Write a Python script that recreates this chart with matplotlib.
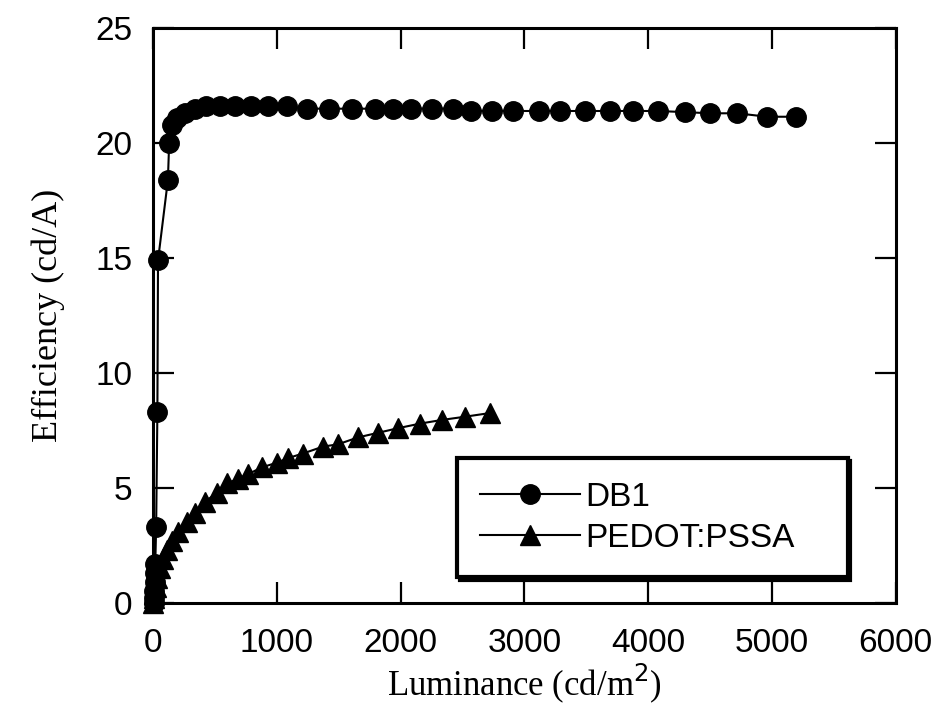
import numpy as np
import matplotlib
matplotlib.use("Agg")
import matplotlib.pyplot as plt

# DB1 device: luminance (cd/m2) vs efficiency (cd/A)
db1_lum = [5, 8, 10, 12, 15, 18, 25, 35, 40, 120, 130, 150, 190, 260, 340, 430,
           540, 660, 790, 930, 1080, 1240, 1420, 1610, 1790, 1940, 2080, 2250,
           2420, 2570, 2740, 2910, 3120, 3290, 3490, 3690, 3880, 4080, 4300,
           4500, 4720, 4960, 5190]
db1_eff = [0.0, 0.2, 0.5, 0.9, 1.3, 1.7, 3.3, 8.3, 14.9, 18.4, 20.0, 20.8, 21.1,
           21.3, 21.5, 21.6, 21.6, 21.6, 21.6, 21.6, 21.6, 21.5, 21.5, 21.5,
           21.5, 21.5, 21.5, 21.5, 21.5, 21.4, 21.4, 21.4, 21.4, 21.4, 21.4,
           21.4, 21.4, 21.4, 21.35, 21.3, 21.3, 21.15, 21.15]

# PEDOT:PSSA reference device
pedot_lum = [0, 5, 10, 20, 35, 55, 80, 110, 150, 202, 275, 339, 420, 517, 598,
             686, 767, 880, 1001, 1090, 1211, 1373, 1494, 1655, 1817, 1978,
             2156, 2333, 2519, 2721]
pedot_eff = [0.0, 0.2, 0.4, 0.7, 1.1, 1.5, 1.9, 2.3, 2.7, 3.1, 3.5, 3.9, 4.4,
             4.8, 5.2, 5.4, 5.6, 5.9, 6.1, 6.3, 6.5, 6.8, 6.9, 7.2, 7.4, 7.6,
             7.8, 7.96, 8.1, 8.26]

series_names = ["DB1", "PEDOT:PSSA"]
x_ticks = [0, 1000, 2000, 3000, 4000, 5000, 6000]
y_ticks = [0, 5, 10, 15, 20, 25]

fig = plt.figure(figsize=(9.39, 7.06), dpi=100)
ax = fig.add_axes([0.163, 0.146, 0.791, 0.814])

ax.plot(db1_lum, db1_eff, color="black", lw=1.5, marker="o", ms=14,
        label=series_names[0], clip_on=False, zorder=3)
ax.plot(pedot_lum, pedot_eff, color="black", lw=1.5, marker="^", ms=14,
        label=series_names[1], clip_on=False, zorder=3)

ax.set_xlim(0, 6000)
ax.set_ylim(0, 25)
ax.set_xticks(x_ticks)
ax.set_yticks(y_ticks)

sans = "Liberation Sans"
serif = "Liberation Serif"
ax.tick_params(direction="in", length=15, width=1.6, top=True, right=True,
               labelsize=24, pad=15)
ax.tick_params(axis="x", pad=18)
for lab in ax.get_xticklabels() + ax.get_yticklabels():
    lab.set_fontfamily(sans)
for sp in ax.spines.values():
    sp.set_linewidth(2.2)

ax.set_xlabel("Luminance (cd/m$^2$)", family=serif, fontsize=25, labelpad=2)
ax.set_ylabel("Efficiency (cd/A)", family=serif, fontsize=26, labelpad=22)

leg = ax.legend(loc="lower left", bbox_to_anchor=(0.409, 0.045, 0.526, 0.218),
                mode="expand", frameon=True, fancybox=False, edgecolor="black",
                framealpha=1, prop={"family": sans, "size": 24},
                handlelength=3.0, handletextpad=0.15, borderpad=0.7,
                labelspacing=0.3, borderaxespad=0,
                shadow={"color": "black", "alpha": 1})
leg.get_frame().set_linewidth(3)

fig.savefig("out.png", dpi=100)
